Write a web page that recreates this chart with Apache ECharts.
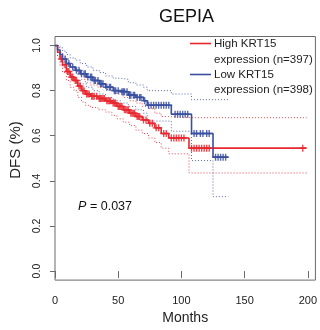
<!DOCTYPE html>
<html><head><meta charset="utf-8">
<script src="https://cdn.jsdelivr.net/npm/echarts@6/dist/echarts.min.js"></script>
<style>html,body{margin:0;padding:0;background:#fff}#c{width:320px;height:330px}</style>
</head><body><div id="c"></div>
<script>
const titleText = 'GEPIA';
const xName = 'Months';
const yName = 'DFS (%)';
const legendLabels = [['High KRT15', 'expression (n=397)'], ['Low KRT15', 'expression (n=398)']];
const pLabel = 'P';
const pValue = ' = 0.037';
const xTicks = [0, 50, 100, 150, 200];
const yTicks = [0, 0.2, 0.4, 0.6, 0.8, 1.0];

const highTimes = [0, 2, 4, 6, 9, 12, 15, 18, 21, 24, 28, 34, 40, 45, 49, 54, 59, 64, 69, 74, 79, 84, 90, 106, 199];
const highSurv  = [1, 0.97, 0.94, 0.915, 0.885, 0.86, 0.845, 0.82, 0.80, 0.785, 0.775, 0.765, 0.755, 0.745, 0.73, 0.715, 0.70, 0.685, 0.67, 0.655, 0.635, 0.61, 0.59, 0.545, 0.545];
const highUpper = [1, 0.99, 0.97, 0.95, 0.925, 0.905, 0.89, 0.87, 0.85, 0.835, 0.825, 0.815, 0.805, 0.80, 0.785, 0.77, 0.755, 0.745, 0.73, 0.72, 0.70, 0.685, 0.68, 0.68, 0.68];
const highLower = [1, 0.95, 0.91, 0.88, 0.845, 0.815, 0.80, 0.77, 0.75, 0.735, 0.725, 0.715, 0.705, 0.69, 0.675, 0.66, 0.645, 0.625, 0.61, 0.59, 0.57, 0.545, 0.52, 0.435, 0.435];
const highCens = [5, 8, 10, 11, 13, 14, 16, 17, 19, 20, 22, 23, 25, 26, 27, 29, 30, 31, 33, 35, 36, 37, 38, 39, 41, 42, 43, 44, 46, 47, 48, 50, 51, 52, 53, 55, 56, 57, 58, 60, 61, 62, 63, 65, 66, 67, 70, 72, 75, 77, 80, 82, 86, 88, 92, 94, 96, 98, 100, 102, 108, 110, 112, 114, 116, 118, 120, 122, 196];

const lowTimes = [0, 2, 4, 6, 9, 12, 16, 20, 25, 30, 35, 40, 46, 52, 58, 64, 70, 73, 92, 108, 125, 137];
const lowSurv  = [1, 0.98, 0.96, 0.94, 0.92, 0.905, 0.89, 0.875, 0.86, 0.845, 0.83, 0.815, 0.80, 0.795, 0.78, 0.77, 0.755, 0.735, 0.695, 0.61, 0.505, 0.505];
const lowUpper = [1, 1, 0.99, 0.975, 0.96, 0.945, 0.935, 0.92, 0.905, 0.89, 0.88, 0.865, 0.855, 0.85, 0.835, 0.825, 0.815, 0.80, 0.785, 0.76, 0.76, 0.76];
const lowLower = [1, 0.955, 0.93, 0.905, 0.88, 0.86, 0.845, 0.83, 0.815, 0.80, 0.785, 0.77, 0.755, 0.745, 0.73, 0.715, 0.70, 0.665, 0.62, 0.49, 0.33, 0.33];
const lowCens = [8, 11, 14, 17, 19, 21, 23, 24, 26, 28, 29, 31, 32, 34, 36, 37, 38, 41, 43, 44, 47, 48, 50, 53, 54, 55, 57, 59, 60, 62, 63, 65, 67, 68, 71, 74, 76, 78, 80, 82, 84, 86, 88, 90, 95, 97, 99, 101, 103, 105, 110, 112, 115, 117, 120, 122, 127, 129, 131, 133, 135];

const RED = '#e8272f';
const BLUE = '#3a4fa0';
const FONT = '"Liberation Sans", Arial, Helvetica, sans-serif';
const PLUS = 'path://M4,0H6V4H10V6H6V10H4V6H0V4H4Z';

function pairs(t, v) { return t.map((x, i) => [x, v[i]]); }
function survAt(t, times, surv) {
  let s = surv[0];
  for (let i = 0; i < times.length; i++) { if (times[i] <= t) s = surv[i]; else break; }
  return s;
}
function stepLine(name, data, color, dotted) {
  return {
    name, type: 'line', step: 'end', data, symbol: 'none', silent: true,
    lineStyle: { color, width: dotted ? 1 : 1.6, type: dotted ? [1, 2] : 'solid', opacity: dotted ? 0.85 : 1 },
    z: dotted ? 2 : 3
  };
}
function censors(name, cens, times, surv, color) {
  return {
    name, type: 'scatter', symbol: PLUS, symbolSize: 7, silent: true,
    itemStyle: { color, opacity: 0.85 },
    data: cens.map(t => [t, survAt(t, times, surv)]), z: 4
  };
}

const chart = echarts.init(document.getElementById('c'), null, { renderer: 'canvas' });
chart.setOption({
  animation: false,
  textStyle: { fontFamily: FONT },
  grid: { left: 55, right: 2, top: 36.5, bottom: 45, show: true, borderColor: '#6a6a6a', borderWidth: 1, containLabel: false },
  xAxis: {
    type: 'value', min: 0, max: 206, interval: 50,
    axisLine: { show: false },
    axisTick: { show: true, length: 7, lineStyle: { color: '#6a6a6a' }, customValues: xTicks },
    axisLabel: { customValues: xTicks, color: '#222', fontSize: 11, margin: 15, fontFamily: FONT },
    splitLine: { show: false },
    name: xName, nameLocation: 'middle', nameGap: 19,
    nameTextStyle: { fontSize: 14, color: '#222', fontFamily: FONT }
  },
  yAxis: {
    type: 'value', min: -0.04, max: 1.04,
    axisLine: { show: false },
    axisTick: { show: true, length: 5, lineStyle: { color: '#6a6a6a' }, customValues: yTicks },
    axisLabel: { customValues: yTicks, rotate: 90, color: '#222', fontSize: 10.5, margin: 12, fontFamily: FONT,
      formatter: v => v.toFixed(1) },
    splitLine: { show: false }
  },
  series: [
    stepLine('High upper', pairs(highTimes, highUpper), RED, true),
    stepLine('High lower', pairs(highTimes, highLower), RED, true),
    stepLine('Low upper', pairs(lowTimes, lowUpper), BLUE, true),
    stepLine('Low lower', pairs(lowTimes, lowLower), BLUE, true),
    stepLine('High', pairs(highTimes, highSurv), RED, false),
    stepLine('Low', pairs(lowTimes, lowSurv), BLUE, false),
    censors('High censored', highCens, highTimes, highSurv, RED),
    censors('Low censored', lowCens, lowTimes, lowSurv, BLUE)
  ],
  graphic: [
    { type: 'text', x: 186.5, y: 17, style: { text: titleText, font: '18px ' + FONT, fill: '#111', align: 'center', verticalAlign: 'middle' } },
    { type: 'text', x: 16, y: 150, rotation: Math.PI / 2, style: { text: yName, font: '15px ' + FONT, fill: '#222', align: 'center', verticalAlign: 'middle' } },
    { type: 'line', shape: { x1: 190, y1: 43.5, x2: 211, y2: 43.5 }, style: { stroke: RED, lineWidth: 1.6 } },
    { type: 'text', x: 214, y: 43.5, style: { text: legendLabels[0][0], font: '11.5px ' + FONT, fill: '#222', verticalAlign: 'middle' } },
    { type: 'text', x: 214, y: 59.5, style: { text: legendLabels[0][1], font: '11.5px ' + FONT, fill: '#222', verticalAlign: 'middle' } },
    { type: 'line', shape: { x1: 190, y1: 74.5, x2: 211, y2: 74.5 }, style: { stroke: BLUE, lineWidth: 1.6 } },
    { type: 'text', x: 214, y: 74.5, style: { text: legendLabels[1][0], font: '11.5px ' + FONT, fill: '#222', verticalAlign: 'middle' } },
    { type: 'text', x: 214, y: 90, style: { text: legendLabels[1][1], font: '11.5px ' + FONT, fill: '#222', verticalAlign: 'middle' } },
    { type: 'text', x: 78, y: 207, style: { text: pLabel, font: 'italic 12.5px ' + FONT, fill: '#111', verticalAlign: 'middle' } },
    { type: 'text', x: 86.5, y: 207, style: { text: pValue, font: '12.5px ' + FONT, fill: '#111', verticalAlign: 'middle' } }
  ]
});
</script>
</body></html>
